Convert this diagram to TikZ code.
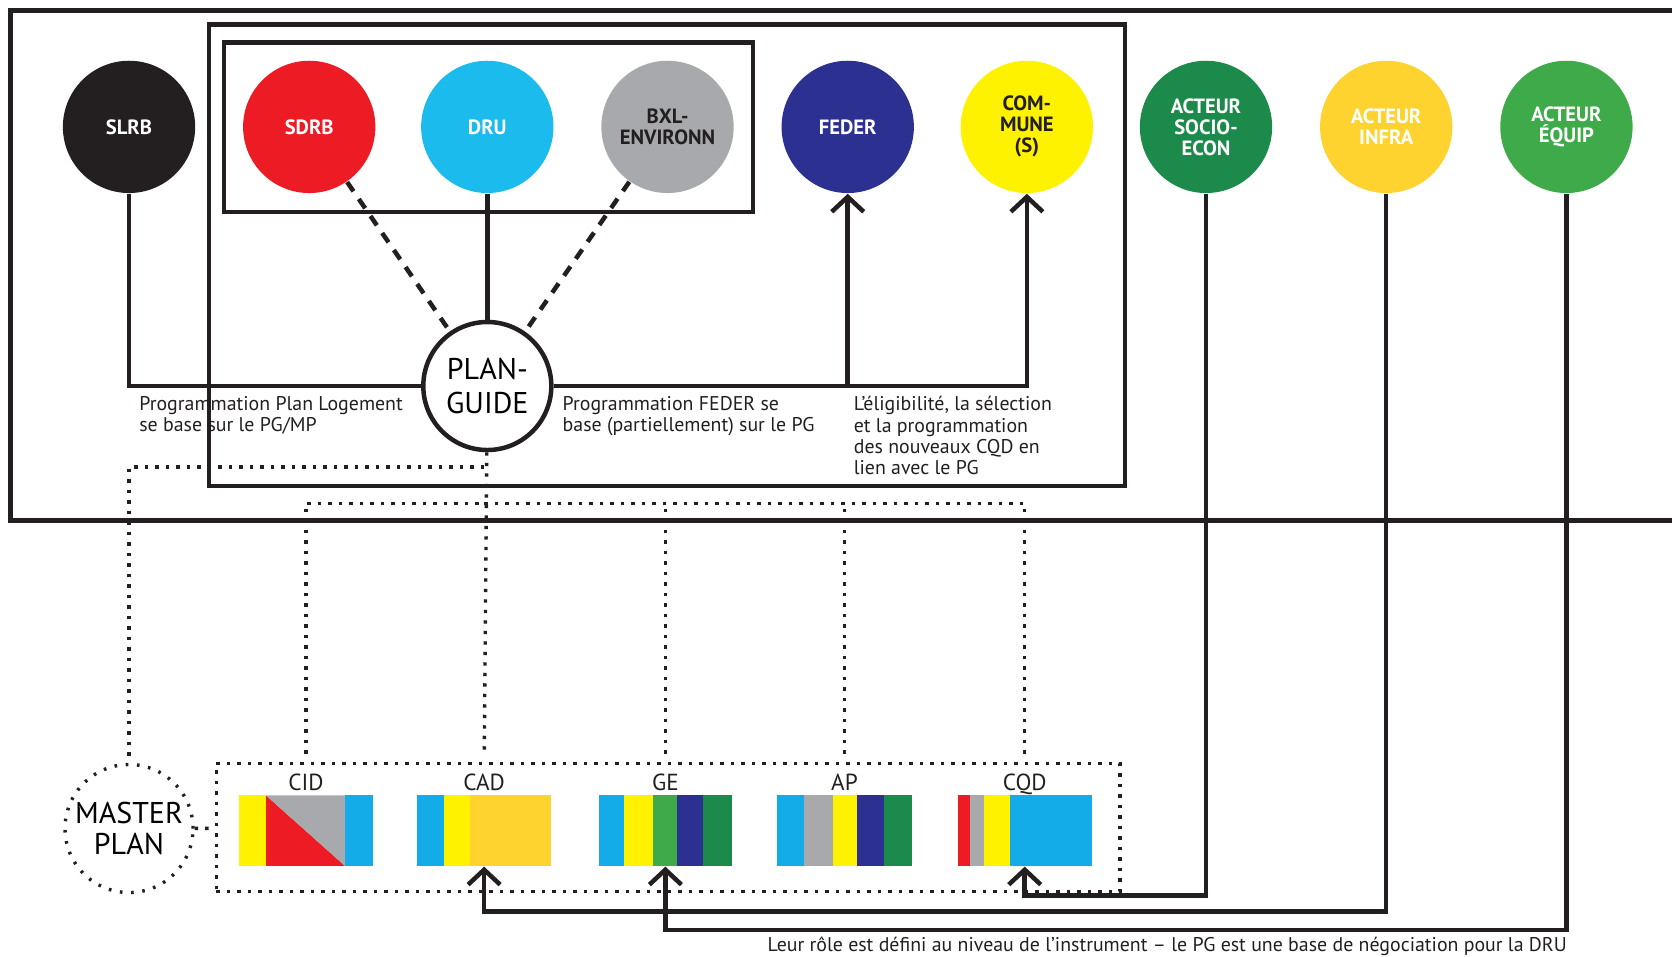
\documentclass[tikz,border=0pt]{standalone}
\usepackage{fontspec}
\setmainfont{PT Sans}
\usetikzlibrary{arrows.meta,positioning,calc}
\definecolor{ink}{HTML}{231F20}
\definecolor{sdrbred}{HTML}{ED1C24}
\definecolor{drucyan}{HTML}{1CBBEE}
\definecolor{barcyan}{HTML}{14ACE8}
\definecolor{bxlgrey}{HTML}{A7A9AC}
\definecolor{federblue}{HTML}{2B3091}
\definecolor{comyellow}{HTML}{FFF200}
\definecolor{socgreen}{HTML}{1B8A4A}
\definecolor{infraamber}{HTML}{FED330}
\definecolor{equipgreen}{HTML}{3EAA4A}
\tikzset{
actor/.style={circle,minimum size=1.24cm,inner sep=0pt,align=center,font=\fontsize{5.5}{5.6}\selectfont\bfseries,text=white},
frame/.style={draw=ink,line width=1.2pt},
link/.style={draw=ink,line width=1.2pt},
arr/.style={link,-{Straight Barb[length=1.4mm,width=3mm]}},
dashlink/.style={link,dash pattern=on 3pt off 2.5pt},
dotlink/.style={draw=ink,line width=0.9pt,dash pattern=on 0.9pt off 1.9pt},
note/.style={font=\fontsize{5.3}{5.7}\selectfont,align=left,text=ink,anchor=north west,inner sep=0pt},
barlab/.style={font=\fontsize{6.2}{7}\selectfont,text=ink,inner sep=1.5pt,text height=1.6ex,text depth=0pt},
bar/.style={minimum width=1.26cm,minimum height=0.66cm,inner sep=0pt}}
\begin{document}
\begin{tikzpicture}[x=0.01cm,y=-0.01cm]
\useasboundingbox (0,0) rectangle (1568,897);
\node[actor,fill=ink] (slrb) at (121,119) {SLRB};
\node[actor,fill=sdrbred] (sdrb) at (290,119) {SDRB};
\node[actor,fill=drucyan] (dru) at (457,119) {DRU};
\node[actor,fill=bxlgrey,text=ink] (bxl) at (626,119) {BXL-\\ENVIRONN};
\node[actor,fill=federblue] (feder) at (795,119) {FEDER};
\node[actor,fill=comyellow,text=ink] (commune) at (963,119) {COM-\\MUNE\\(S)};
\node[actor,fill=socgreen] (socio) at (1131,119) {ACTEUR\\SOCIO-\\ECON};
\node[actor,fill=infraamber] (infra) at (1300,119) {ACTEUR\\INFRA};
\node[actor,fill=equipgreen] (equip) at (1469,119) {ACTEUR\\ÉQUIP};
\node[circle,draw=ink,line width=1.2pt,fill=white,minimum size=1.2cm,inner sep=0pt,align=center,font=\fontsize{8}{9.1}\selectfont] (pg) at (457,362) {PLAN-\\GUIDE};
\node[circle,draw=ink,line width=0.9pt,dash pattern=on 0.7pt off 2.3pt,minimum size=1.2cm,inner sep=0pt,align=center,font=\fontsize{8}{8.5}\selectfont] (mp) at (121,777) {MASTER\\PLAN};
% frames
\draw[frame] (1570,10) -| (10,488) -- (1570,488);
\draw[frame] (196,23) rectangle (1055,456);
\draw[frame] (210,40) rectangle (706,199);
% bars
\fill[comyellow] (224,746) rectangle (249.5,812);
\fill[sdrbred] (249.5,746) -- (323.5,812) -- (249.5,812) -- cycle;
\fill[bxlgrey] (249.5,746) -- (323.5,746) -- (323.5,812) -- cycle;
\fill[barcyan] (323.5,746) rectangle (350,812);
\fill[barcyan] (391,746) rectangle (416,812);
\fill[comyellow] (416,746) rectangle (441,812);
\fill[infraamber] (441,746) rectangle (517,812);
\fill[barcyan] (562,746) rectangle (585,812);
\fill[comyellow] (585,746) rectangle (612,812);
\fill[equipgreen] (612,746) rectangle (635,812);
\fill[federblue] (635,746) rectangle (659,812);
\fill[socgreen] (659,746) rectangle (686,812);
\fill[barcyan] (729,746) rectangle (754,812);
\fill[bxlgrey] (754,746) rectangle (781,812);
\fill[comyellow] (781,746) rectangle (804,812);
\fill[federblue] (804,746) rectangle (829,812);
\fill[socgreen] (829,746) rectangle (855,812);
\fill[sdrbred] (898,746) rectangle (910,812);
\fill[bxlgrey] (910,746) rectangle (923,812);
\fill[comyellow] (923,746) rectangle (947,812);
\fill[barcyan] (947,746) rectangle (1024,812);
\node[bar] (cid) at (287,779) {};
\node[bar] (cad) at (454,779) {};
\node[bar] (ge) at (624,779) {};
\node[bar] (ap) at (792,779) {};
\node[bar] (cqd) at (961,779) {};
\node[barlab] (cidlab) at (287,727) {CID};
\node[barlab] (cadlab) at (454,727) {CAD};
\node[barlab] (gelab) at (624,727) {GE};
\node[barlab] (aplab) at (792,727) {AP};
\node[barlab] (cqdlab) at (961,727) {CQD};
\node[draw=ink,line width=0.9pt,dash pattern=on 0.9pt off 1.9pt,minimum width=8.47cm,minimum height=1.2cm] (barbox) at (626.5,776) {};
% links
\draw[link] (slrb) |- (pg);
\draw[link] (dru) -- (pg);
\draw[dashlink] (sdrb) -- (pg);
\draw[dashlink] (bxl) -- (pg);
\draw[arr] (pg) -| (feder);
\draw[arr] (pg) -| (commune);
\coordinate (pgjoin) at (454,438);
\coordinate (barjoin) at (454,472);
\draw[dotlink] (pg) -- (cadlab);
\draw[dotlink] (pgjoin) -| (mp);
\draw[dotlink] (cidlab) |- (barjoin);
\draw[dotlink] (cqdlab) |- (barjoin);
\draw[dotlink] (gelab) -- (gelab |- barjoin);
\draw[dotlink] (aplab) -- (aplab |- barjoin);
\draw[dotlink] (mp) -- (barbox);
\draw[arr] (socio) |- (cqd |- 0,840) -- (cqd);
\draw[arr] (infra) |- (cad |- 0,855) -- (cad);
\draw[arr] (equip) |- (ge |- 0,872) -- (ge);
% notes
\node[note] (plannote) at (130,371) {Programmation Plan Logement\\se base sur le PG/MP};
\node[note] (federnote) at (527,371) {Programmation FEDER se\\base (partiellement) sur le PG};
\node[note] (cqdnote) at (800,371) {L’éligibilité, la sélection\\et la programmation\\des nouveaux CQD en\\lien avec le PG};
\node[note,anchor=base east] (caption) at (1470,892) {Leur rôle est défini au niveau de l’instrument – le PG est une base de négociation pour la DRU};
\end{tikzpicture}
\end{document}
